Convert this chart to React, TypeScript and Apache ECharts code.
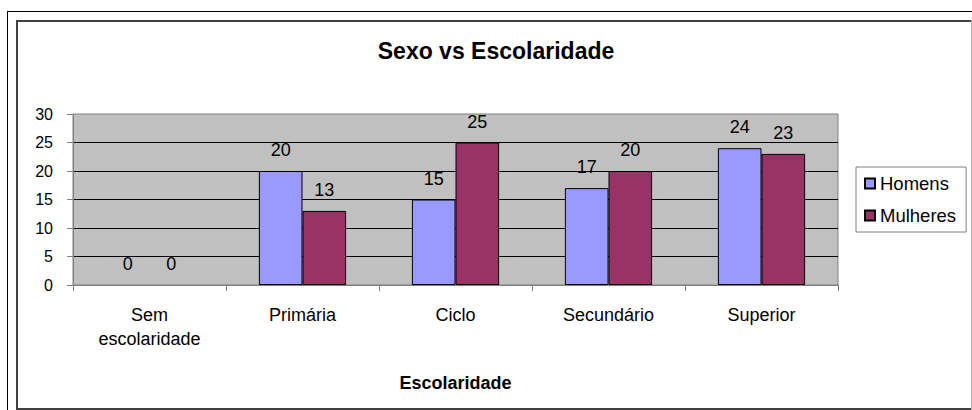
import React, { useEffect, useRef } from "react";
import * as echarts from "echarts";

const categories = ["Sem\nescolaridade", "Primária", "Ciclo", "Secundário", "Superior"];
const homens = [0, 20, 15, 17, 24];
const mulheres = [0, 13, 25, 20, 23];
const seriesNames = ["Homens", "Mulheres"];
const titleText = "Sexo vs Escolaridade";
const xAxisName = "Escolaridade";

const FONT = '"Liberation Sans", Arial, sans-serif';

const toItems = (arr: number[]) =>
  arr.map((v) => (v === 0 ? { value: v, itemStyle: { borderWidth: 0 } } : { value: v }));

export default function App() {
  const ref = useRef<HTMLDivElement>(null);
  useEffect(() => {
    if (!ref.current) return;
    const chart = echarts.init(ref.current, undefined, { renderer: "svg" });
    const labelStyle = {
      show: true,
      position: "top" as const,
      distance: 12,
      color: "#000",
      fontSize: 18,
      fontFamily: FONT,
    };
    chart.setOption({
      animation: false,
      backgroundColor: "#fff",
      textStyle: { fontFamily: FONT },
      grid: {
        left: 73,
        right: 134,
        top: 114,
        bottom: 125,
        show: true,
        backgroundColor: "#C0C0C0",
        borderColor: "#808080",
        borderWidth: 1,
      },
      legend: {
        orient: "vertical",
        left: 856,
        top: 167,
        padding: [7, 10, 7, 8],
        itemWidth: 10,
        itemHeight: 10,
        itemGap: 13,
        icon: "rect",
        backgroundColor: "#fff",
        borderColor: "#808080",
        borderWidth: 1,
        textStyle: { fontSize: 18.5, color: "#000", fontFamily: FONT },
        data: seriesNames,
      },
      xAxis: {
        type: "category",
        data: categories,
        name: xAxisName,
        nameLocation: "middle",
        nameGap: 89,
        nameTextStyle: { fontSize: 18, fontWeight: "bold", color: "#000", fontFamily: FONT },
        axisLine: { show: true, lineStyle: { color: "#808080", width: 1 } },
        axisTick: { show: true, length: 6, lineStyle: { color: "#808080" } },
        axisLabel: {
          color: "#000",
          fontSize: 18,
          lineHeight: 24,
          margin: 18,
          fontFamily: FONT,
          interval: 0,
        },
      },
      yAxis: {
        type: "value",
        min: 0,
        max: 30,
        interval: 5,
        axisLine: { show: true, lineStyle: { color: "#808080", width: 1 } },
        axisTick: { show: true, length: 6, lineStyle: { color: "#808080" } },
        axisLabel: { color: "#000", fontSize: 16, margin: 20, fontFamily: FONT },
        splitLine: {
          show: true,
          showMinLine: false,
          showMaxLine: false,
          lineStyle: { color: "#000", width: 1 },
        },
      },
      series: [
        {
          name: seriesNames[0],
          type: "bar",
          data: toItems(homens),
          barGap: "0%",
          barCategoryGap: "43%",
          itemStyle: { color: "#9999FF", borderColor: "#000", borderWidth: 1 },
          label: labelStyle,
        },
        {
          name: seriesNames[1],
          type: "bar",
          data: toItems(mulheres),
          barGap: "0%",
          barCategoryGap: "43%",
          itemStyle: { color: "#993366", borderColor: "#000", borderWidth: 1 },
          label: labelStyle,
        },
      ],
      graphic: [
        { type: "line", shape: { x1: 7, y1: 11.5, x2: 972, y2: 11.5 }, style: { stroke: "#000", lineWidth: 1 } },
        { type: "line", shape: { x1: 7.5, y1: 11, x2: 7.5, y2: 410 }, style: { stroke: "#000", lineWidth: 1 } },
        { type: "line", shape: { x1: 16, y1: 21, x2: 971, y2: 21 }, style: { stroke: "#404040", lineWidth: 2 } },
        { type: "line", shape: { x1: 17, y1: 20, x2: 17, y2: 410 }, style: { stroke: "#404040", lineWidth: 2 } },
        { type: "line", shape: { x1: 16, y1: 409, x2: 972, y2: 409 }, style: { stroke: "#404040", lineWidth: 2 } },
        { type: "line", shape: { x1: 971.5, y1: 20, x2: 971.5, y2: 410 }, style: { stroke: "#b0b0b0", lineWidth: 1 } },
        {
          type: "text",
          x: 496,
          y: 51,
          style: {
            text: titleText,
            fontSize: 23,
            fontWeight: "bold",
            fontFamily: FONT,
            fill: "#000",
            align: "center",
            verticalAlign: "middle",
          },
        },
      ],
    });
    return () => chart.dispose();
  }, []);
  return (
    <div
      ref={ref}
      style={{ position: "absolute", left: 0, top: 0, width: 972, height: 410 }}
    />
  );
}
